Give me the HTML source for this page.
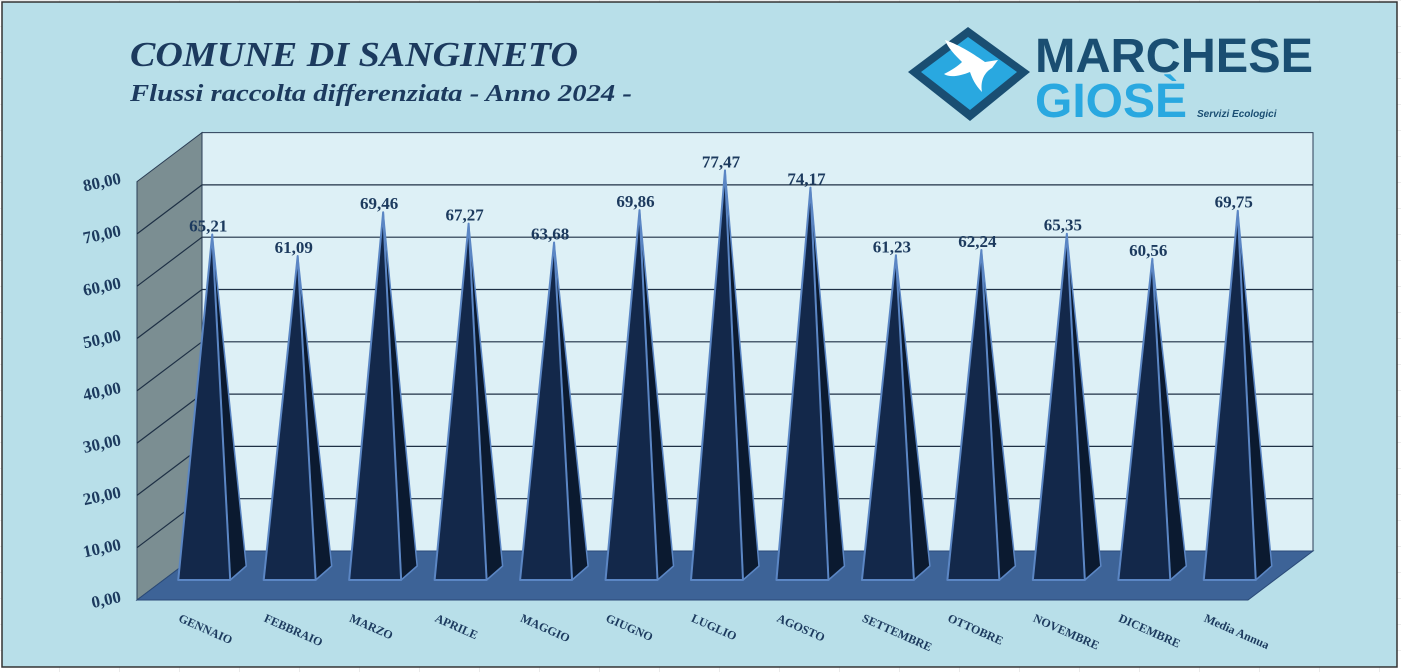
<!DOCTYPE html>
<html><head><meta charset="utf-8">
<style>
html,body{margin:0;padding:0;width:1401px;height:672px;overflow:hidden;background:#fff;}
svg{display:block}
</style></head>
<body>
<svg id="chart" width="1401" height="672" viewBox="0 0 1401 672" xmlns="http://www.w3.org/2000/svg">
<defs>
<pattern id="cells" width="60" height="26" patternUnits="userSpaceOnUse"><path d="M0 0H60V26" fill="none" stroke="#d8d8d8" stroke-width="1"/></pattern>
</defs>
<rect x="0" y="0" width="1401" height="672" fill="url(#cells)"/>
<rect x="2" y="2" width="1395" height="665" fill="#b8dfe9" stroke="#333" stroke-width="1.5"/>
<text x="130" y="66" font-family="Liberation Serif, serif" font-style="italic" font-weight="bold" font-size="35" fill="#1c3a5e" textLength="448" lengthAdjust="spacingAndGlyphs">COMUNE DI SANGINETO</text>
<text x="130" y="101" font-family="Liberation Serif, serif" font-style="italic" font-weight="bold" font-size="24" fill="#1c3a5e" textLength="502" lengthAdjust="spacingAndGlyphs">Flussi raccolta differenziata - Anno 2024 -</text>
<g>
<polygon points="908,72 968,27 1030,72 970,121" fill="#1a4e72"/>
<polygon points="921,72 968,37 1017,72 970,110" fill="#29a8e0"/>
<path d="M945,40 C960,45 975,55 985,62 L998,60 L992,68 C985,72 980,80 982,92 C975,85 972,78 970,72 C960,76 950,78 944,74 C952,70 958,66 962,62 C955,55 948,48 945,40Z" fill="#fff"/>
<text x="1035" y="72" font-family="Liberation Sans, sans-serif" font-weight="bold" font-size="48" fill="#1a4e72" textLength="278" lengthAdjust="spacingAndGlyphs">MARCHESE</text>
<text x="1035" y="117" font-family="Liberation Sans, sans-serif" font-weight="bold" font-size="48" fill="#29a8e0" textLength="152" lengthAdjust="spacingAndGlyphs">GIOSÈ</text>
<text x="1197" y="117" font-family="Liberation Sans, sans-serif" font-style="italic" font-weight="bold" font-size="10" fill="#1a4e72">Servizi Ecologici</text>
</g>
<g id="plot"></g>
</svg>
<script>
const categories=["GENNAIO","FEBBRAIO","MARZO","APRILE","MAGGIO","GIUGNO","LUGLIO","AGOSTO","SETTEMBRE","OTTOBRE","NOVEMBRE","DICEMBRE","Media Annua"];
const values=[65.21,61.09,69.46,67.27,63.68,69.86,77.47,74.17,61.23,62.24,65.35,60.56,69.75];
const tickValues=[0,10,20,30,40,50,60,70,80];
const tickLabels=["0,00","10,00","20,00","30,00","40,00","50,00","60,00","70,00","80,00"];
const labelText=["65,21","61,09","69,46","67,27","63,68","69,86","77,47","74,17","61,23","62,24","65,35","60,56","69,75"];

const NS="http://www.w3.org/2000/svg";
const g=document.getElementById('plot');
function el(t,a,p){const e=document.createElementNS(NS,t);for(const k in a)e.setAttribute(k,a[k]);(p||g).appendChild(e);return e;}
const FX=137,FY0=600,BX=202,BY0=551,DX=BX-FX,DY=BY0-FY0,PPU=5.23;
const W=1248-FX, step=W/categories.length, MAXV=80;
const yBack=v=>BY0-v*PPU, yFront=v=>FY0-v*PPU;
let w=el('polygon',{points:`${BX},${yBack(MAXV)} 1313,${yBack(MAXV)} 1313,${BY0} ${BX},${BY0}`,fill:'#ddf0f6',stroke:'#2a3d55','stroke-width':1});


let s=el('polygon',{points:`${FX},${yFront(MAXV)} ${BX},${yBack(MAXV)} ${BX},${BY0} ${FX},${FY0}`,fill:'#7b8e92',stroke:'#2a3d55','stroke-width':1});


tickValues.forEach((v,i)=>{
  if(v>0&&v<MAXV){
    let l=el('polyline',{points:`${FX},${yFront(v)} ${BX},${yBack(v)} 1313,${yBack(v)}`,fill:'none',stroke:'#1e3045','stroke-width':1.2});
    
    
  }
  const y=yFront(v)+6;
  let t=el('text',{x:121,y:y,'text-anchor':'end','font-family':'Liberation Serif, serif','font-weight':'bold','font-size':17,fill:'#1c3a5e',transform:`rotate(-12 102 ${y-6})`});
  t.textContent=tickLabels[i];
  
  
});
let f=el('polygon',{points:`${BX},${BY0} 1313,${BY0} 1248,${FY0} ${FX},${FY0}`,fill:'#3d6397',stroke:'#2a4a78','stroke-width':1});


const midOff=0.5;
categories.forEach((c,i)=>{
  const cx=FX+step*(i+0.5)+DX*midOff, by=FY0-20, hw=26, ox=16, oy=-14;
  const py=(FY0+DY*midOff)-values[i]*PPU;
  const px=cx;
  const gg=el('g',{});
  
  
  el('polygon',{points:`${cx+hw-8},${by} ${cx+hw+ox-8},${by+oy} ${px},${py}`,fill:'#0b1a30',stroke:'#5b86c4','stroke-width':1.5,'stroke-linejoin':'round'},gg);
  el('polygon',{points:`${cx-hw-8},${by} ${cx+hw-8},${by} ${px},${py}`,fill:'#13284a',stroke:'#5b86c4','stroke-width':2,'stroke-linejoin':'round'},gg);
  let lt=el('text',{x:px-4,y:py-3,'text-anchor':'middle','font-family':'Liberation Serif, serif','font-weight':'bold','font-size':17,fill:'#1c3a5e'});
  lt.textContent=labelText[i];
  
  
  const lx=FX+step*(i+0.5)-2, ly=621;
  let ct=el('text',{x:lx,y:ly,'font-family':'Liberation Serif, serif','font-weight':'bold','font-size':12,fill:'#1c3a5e',transform:`rotate(24 ${lx} ${ly})`,'text-anchor':'start'});
  ct.textContent=c;
  
  
});
</script>
</body></html>
